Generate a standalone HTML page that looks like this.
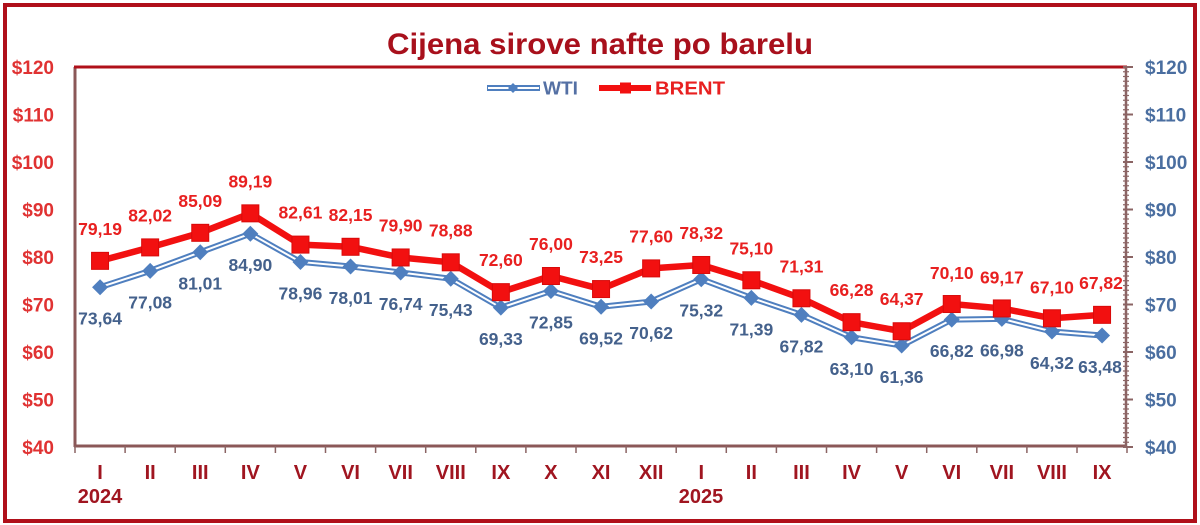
<!DOCTYPE html>
<html><head><meta charset="utf-8"><style>
html,body{margin:0;padding:0;background:#fff;}
svg{display:block;font-family:"Liberation Sans",Arial,sans-serif;font-weight:bold;}
</style></head><body>
<svg width="1200" height="525" viewBox="0 0 1200 525" xmlns="http://www.w3.org/2000/svg">
<rect x="0" y="0" width="1200" height="525" fill="#fff"/>
<rect x="5" y="5" width="1190" height="516" fill="none" stroke="#b0101a" stroke-width="4"/>
<text x="387" y="54" font-size="30" fill="#a8101c" textLength="426" lengthAdjust="spacingAndGlyphs">Cijena sirove nafte po barelu</text>

<!-- plot frame -->
<line x1="75" y1="447" x2="75" y2="67" stroke="#8b5858" stroke-width="3"/>
<line x1="74" y1="446" x2="1127" y2="446" stroke="#8b5858" stroke-width="3"/>
<line x1="74" y1="67" x2="1127" y2="67" stroke="#b0101a" stroke-width="3"/>
<line x1="1126" y1="67" x2="1126" y2="447" stroke="#8b6464" stroke-width="2.5"/>
<g stroke="#8b6464" stroke-width="2">
<line x1="1123" y1="67" x2="1133" y2="67"/><line x1="1123" y1="114.5" x2="1133" y2="114.5"/><line x1="1123" y1="162" x2="1133" y2="162"/><line x1="1123" y1="209.5" x2="1133" y2="209.5"/><line x1="1123" y1="257" x2="1133" y2="257"/><line x1="1123" y1="304.5" x2="1133" y2="304.5"/><line x1="1123" y1="352" x2="1133" y2="352"/><line x1="1123" y1="399.5" x2="1133" y2="399.5"/><line x1="1123" y1="447" x2="1133" y2="447"/>
</g>
<g stroke="#8b6464" stroke-width="1.2">
<line x1="1123" y1="71.75" x2="1129" y2="71.75"/><line x1="1123" y1="76.5" x2="1129" y2="76.5"/><line x1="1123" y1="81.25" x2="1129" y2="81.25"/><line x1="1123" y1="86" x2="1129" y2="86"/><line x1="1123" y1="90.75" x2="1129" y2="90.75"/><line x1="1123" y1="95.5" x2="1129" y2="95.5"/><line x1="1123" y1="100.25" x2="1129" y2="100.25"/><line x1="1123" y1="105" x2="1129" y2="105"/><line x1="1123" y1="109.75" x2="1129" y2="109.75"/>
<line x1="1123" y1="119.25" x2="1129" y2="119.25"/><line x1="1123" y1="124" x2="1129" y2="124"/><line x1="1123" y1="128.75" x2="1129" y2="128.75"/><line x1="1123" y1="133.5" x2="1129" y2="133.5"/><line x1="1123" y1="138.25" x2="1129" y2="138.25"/><line x1="1123" y1="143" x2="1129" y2="143"/><line x1="1123" y1="147.75" x2="1129" y2="147.75"/><line x1="1123" y1="152.5" x2="1129" y2="152.5"/><line x1="1123" y1="157.25" x2="1129" y2="157.25"/>
<line x1="1123" y1="166.75" x2="1129" y2="166.75"/><line x1="1123" y1="171.5" x2="1129" y2="171.5"/><line x1="1123" y1="176.25" x2="1129" y2="176.25"/><line x1="1123" y1="181" x2="1129" y2="181"/><line x1="1123" y1="185.75" x2="1129" y2="185.75"/><line x1="1123" y1="190.5" x2="1129" y2="190.5"/><line x1="1123" y1="195.25" x2="1129" y2="195.25"/><line x1="1123" y1="200" x2="1129" y2="200"/><line x1="1123" y1="204.75" x2="1129" y2="204.75"/>
<line x1="1123" y1="214.25" x2="1129" y2="214.25"/><line x1="1123" y1="219" x2="1129" y2="219"/><line x1="1123" y1="223.75" x2="1129" y2="223.75"/><line x1="1123" y1="228.5" x2="1129" y2="228.5"/><line x1="1123" y1="233.25" x2="1129" y2="233.25"/><line x1="1123" y1="238" x2="1129" y2="238"/><line x1="1123" y1="242.75" x2="1129" y2="242.75"/><line x1="1123" y1="247.5" x2="1129" y2="247.5"/><line x1="1123" y1="252.25" x2="1129" y2="252.25"/>
<line x1="1123" y1="261.75" x2="1129" y2="261.75"/><line x1="1123" y1="266.5" x2="1129" y2="266.5"/><line x1="1123" y1="271.25" x2="1129" y2="271.25"/><line x1="1123" y1="276" x2="1129" y2="276"/><line x1="1123" y1="280.75" x2="1129" y2="280.75"/><line x1="1123" y1="285.5" x2="1129" y2="285.5"/><line x1="1123" y1="290.25" x2="1129" y2="290.25"/><line x1="1123" y1="295" x2="1129" y2="295"/><line x1="1123" y1="299.75" x2="1129" y2="299.75"/>
<line x1="1123" y1="309.25" x2="1129" y2="309.25"/><line x1="1123" y1="314" x2="1129" y2="314"/><line x1="1123" y1="318.75" x2="1129" y2="318.75"/><line x1="1123" y1="323.5" x2="1129" y2="323.5"/><line x1="1123" y1="328.25" x2="1129" y2="328.25"/><line x1="1123" y1="333" x2="1129" y2="333"/><line x1="1123" y1="337.75" x2="1129" y2="337.75"/><line x1="1123" y1="342.5" x2="1129" y2="342.5"/><line x1="1123" y1="347.25" x2="1129" y2="347.25"/>
<line x1="1123" y1="356.75" x2="1129" y2="356.75"/><line x1="1123" y1="361.5" x2="1129" y2="361.5"/><line x1="1123" y1="366.25" x2="1129" y2="366.25"/><line x1="1123" y1="371" x2="1129" y2="371"/><line x1="1123" y1="375.75" x2="1129" y2="375.75"/><line x1="1123" y1="380.5" x2="1129" y2="380.5"/><line x1="1123" y1="385.25" x2="1129" y2="385.25"/><line x1="1123" y1="390" x2="1129" y2="390"/><line x1="1123" y1="394.75" x2="1129" y2="394.75"/>
<line x1="1123" y1="404.25" x2="1129" y2="404.25"/><line x1="1123" y1="409" x2="1129" y2="409"/><line x1="1123" y1="413.75" x2="1129" y2="413.75"/><line x1="1123" y1="418.5" x2="1129" y2="418.5"/><line x1="1123" y1="423.25" x2="1129" y2="423.25"/><line x1="1123" y1="428" x2="1129" y2="428"/><line x1="1123" y1="432.75" x2="1129" y2="432.75"/><line x1="1123" y1="437.5" x2="1129" y2="437.5"/><line x1="1123" y1="442.25" x2="1129" y2="442.25"/>
</g>
<!-- x ticks -->
<g stroke="#8b6464" stroke-width="1.5">
<line x1="75" y1="446" x2="75" y2="453"/><line x1="125.1" y1="446" x2="125.1" y2="453"/><line x1="175.2" y1="446" x2="175.2" y2="453"/><line x1="225.3" y1="446" x2="225.3" y2="453"/><line x1="275.4" y1="446" x2="275.4" y2="453"/><line x1="325.5" y1="446" x2="325.5" y2="453"/><line x1="375.6" y1="446" x2="375.6" y2="453"/><line x1="425.7" y1="446" x2="425.7" y2="453"/><line x1="475.8" y1="446" x2="475.8" y2="453"/><line x1="525.9" y1="446" x2="525.9" y2="453"/><line x1="576" y1="446" x2="576" y2="453"/><line x1="626.1" y1="446" x2="626.1" y2="453"/><line x1="676.2" y1="446" x2="676.2" y2="453"/><line x1="726.3" y1="446" x2="726.3" y2="453"/><line x1="776.4" y1="446" x2="776.4" y2="453"/><line x1="826.5" y1="446" x2="826.5" y2="453"/><line x1="876.6" y1="446" x2="876.6" y2="453"/><line x1="926.7" y1="446" x2="926.7" y2="453"/><line x1="976.8" y1="446" x2="976.8" y2="453"/><line x1="1026.9" y1="446" x2="1026.9" y2="453"/><line x1="1077" y1="446" x2="1077" y2="453"/><line x1="1127" y1="446" x2="1127" y2="453"/>
</g>

<!-- left y labels -->
<g font-size="19" fill="#e03232" text-anchor="end">
<text x="54" y="74">$120</text><text x="54" y="121.5">$110</text><text x="54" y="169">$100</text><text x="54" y="216.5">$90</text><text x="54" y="264">$80</text><text x="54" y="311.5">$70</text><text x="54" y="359">$60</text><text x="54" y="406.5">$50</text><text x="54" y="454">$40</text>
</g>
<!-- right y labels -->
<g font-size="19" fill="#4a6ea0" text-anchor="start">
<text x="1145" y="74">$120</text><text x="1145" y="121.5">$110</text><text x="1145" y="169">$100</text><text x="1145" y="216.5">$90</text><text x="1145" y="264">$80</text><text x="1145" y="311.5">$70</text><text x="1145" y="359">$60</text><text x="1145" y="406.5">$50</text><text x="1145" y="454">$40</text>
</g>
<!-- x labels -->
<g font-size="20" fill="#a01520" text-anchor="middle">
<text x="100.05" y="479">I</text><text x="150.15" y="479">II</text><text x="200.25" y="479">III</text><text x="250.35" y="479">IV</text><text x="300.45" y="479">V</text><text x="350.55" y="479">VI</text><text x="400.65" y="479">VII</text><text x="450.75" y="479">VIII</text><text x="500.85" y="479">IX</text><text x="550.95" y="479">X</text><text x="601.05" y="479">XI</text><text x="651.15" y="479">XII</text><text x="701.25" y="479">I</text><text x="751.35" y="479">II</text><text x="801.45" y="479">III</text><text x="851.55" y="479">IV</text><text x="901.65" y="479">V</text><text x="951.75" y="479">VI</text><text x="1001.85" y="479">VII</text><text x="1051.95" y="479">VIII</text><text x="1102.05" y="479">IX</text>
<text x="100" y="503">2024</text><text x="701" y="503">2025</text>
</g>

<!-- WTI series -->
<polyline fill="none" stroke="#4f7fbf" stroke-width="6" stroke-linejoin="round" points="100.05,287.21 150.15,270.87 200.25,252.2 250.35,233.72 300.45,261.94 350.55,266.45 400.65,272.48 450.75,278.71 500.85,307.68 550.95,290.96 601.05,306.78 651.15,301.55 701.25,279.23 751.35,297.9 801.45,314.85 851.55,337.27 901.65,345.54 951.75,319.6 1001.85,318.84 1051.95,331.48 1102.05,335.47"/>
<polyline fill="none" stroke="#ffffff" stroke-width="2" stroke-linejoin="round" points="100.05,287.21 150.15,270.87 200.25,252.2 250.35,233.72 300.45,261.94 350.55,266.45 400.65,272.48 450.75,278.71 500.85,307.68 550.95,290.96 601.05,306.78 651.15,301.55 701.25,279.23 751.35,297.9 801.45,314.85 851.55,337.27 901.65,345.54 951.75,319.6 1001.85,318.84 1051.95,331.48 1102.05,335.47"/>
<g fill="#4f7fbf">
<path d="M100.05,279.21l8,8l-8,8l-8,-8z"/><path d="M150.15,262.87l8,8l-8,8l-8,-8z"/><path d="M200.25,244.2l8,8l-8,8l-8,-8z"/><path d="M250.35,225.72l8,8l-8,8l-8,-8z"/><path d="M300.45,253.94l8,8l-8,8l-8,-8z"/><path d="M350.55,258.45l8,8l-8,8l-8,-8z"/><path d="M400.65,264.48l8,8l-8,8l-8,-8z"/><path d="M450.75,270.71l8,8l-8,8l-8,-8z"/><path d="M500.85,299.68l8,8l-8,8l-8,-8z"/><path d="M550.95,282.96l8,8l-8,8l-8,-8z"/><path d="M601.05,298.78l8,8l-8,8l-8,-8z"/><path d="M651.15,293.55l8,8l-8,8l-8,-8z"/><path d="M701.25,271.23l8,8l-8,8l-8,-8z"/><path d="M751.35,289.9l8,8l-8,8l-8,-8z"/><path d="M801.45,306.85l8,8l-8,8l-8,-8z"/><path d="M851.55,329.27l8,8l-8,8l-8,-8z"/><path d="M901.65,337.54l8,8l-8,8l-8,-8z"/><path d="M951.75,311.6l8,8l-8,8l-8,-8z"/><path d="M1001.85,310.84l8,8l-8,8l-8,-8z"/><path d="M1051.95,323.48l8,8l-8,8l-8,-8z"/><path d="M1102.05,327.47l8,8l-8,8l-8,-8z"/>
</g>

<!-- BRENT series -->
<polyline fill="none" stroke="#f21010" stroke-width="6.5" stroke-linejoin="round" points="100.05,260.85 150.15,247.4 200.25,232.82 250.35,213.35 300.45,244.6 350.55,246.79 400.65,257.47 450.75,262.32 500.85,292.15 550.95,276 601.05,289.06 651.15,268.4 701.25,264.98 751.35,280.27 801.45,298.28 851.55,322.17 901.65,331.24 951.75,304.02 1001.85,308.44 1051.95,318.27 1102.05,314.85"/>
<g fill="#f21010" stroke="#d80a0a" stroke-width="1">
<rect x="91.55" y="252.35" width="17" height="17"/><rect x="141.65" y="238.9" width="17" height="17"/><rect x="191.75" y="224.32" width="17" height="17"/><rect x="241.85" y="204.85" width="17" height="17"/><rect x="291.95" y="236.1" width="17" height="17"/><rect x="342.05" y="238.29" width="17" height="17"/><rect x="392.15" y="248.97" width="17" height="17"/><rect x="442.25" y="253.82" width="17" height="17"/><rect x="492.35" y="283.65" width="17" height="17"/><rect x="542.45" y="267.5" width="17" height="17"/><rect x="592.55" y="280.56" width="17" height="17"/><rect x="642.65" y="259.9" width="17" height="17"/><rect x="692.75" y="256.48" width="17" height="17"/><rect x="742.85" y="271.77" width="17" height="17"/><rect x="792.95" y="289.78" width="17" height="17"/><rect x="843.05" y="313.67" width="17" height="17"/><rect x="893.15" y="322.74" width="17" height="17"/><rect x="943.25" y="295.52" width="17" height="17"/><rect x="993.35" y="299.94" width="17" height="17"/><rect x="1043.45" y="309.77" width="17" height="17"/><rect x="1093.55" y="306.35" width="17" height="17"/>
</g>

<!-- BRENT labels -->
<g font-size="17.5" fill="#e82020" text-anchor="middle">
<text x="100.05" y="234.85">79,19</text><text x="150.15" y="221.4">82,02</text><text x="200.25" y="206.82">85,09</text><text x="250.35" y="187.35">89,19</text><text x="300.45" y="218.6">82,61</text><text x="350.55" y="220.79">82,15</text><text x="400.65" y="231.47">79,90</text><text x="450.75" y="236.32">78,88</text><text x="500.85" y="266.15">72,60</text><text x="550.95" y="250">76,00</text><text x="601.05" y="263.06">73,25</text><text x="651.15" y="242.4">77,60</text><text x="701.25" y="238.98">78,32</text><text x="751.35" y="254.27">75,10</text><text x="801.45" y="272.28">71,31</text><text x="851.55" y="296.17">66,28</text><text x="901.65" y="305.24">64,37</text><text x="951.75" y="279.02">70,10</text><text x="1001.85" y="283.44">69,17</text><text x="1051.95" y="293.27">67,10</text><text x="1101" y="288.85">67,82</text>
</g>
<!-- WTI labels -->
<g font-size="17.5" fill="#44618c" text-anchor="middle">
<text x="100.05" y="324.71">73,64</text><text x="150.15" y="308.37">77,08</text><text x="200.25" y="289.7">81,01</text><text x="250.35" y="271.22">84,90</text><text x="300.45" y="299.44">78,96</text><text x="350.55" y="303.95">78,01</text><text x="400.65" y="309.98">76,74</text><text x="450.75" y="316.21">75,43</text><text x="500.85" y="345.18">69,33</text><text x="550.95" y="328.46">72,85</text><text x="601.05" y="344.28">69,52</text><text x="651.15" y="339.05">70,62</text><text x="701.25" y="316.73">75,32</text><text x="751.35" y="335.4">71,39</text><text x="801.45" y="352.35">67,82</text><text x="851.55" y="374.77">63,10</text><text x="901.65" y="383.04">61,36</text><text x="951.75" y="357.1">66,82</text><text x="1001.85" y="356.34">66,98</text><text x="1051.95" y="368.98">64,32</text><text x="1100" y="372.97">63,48</text>
</g>

<!-- legend -->
<line x1="487" y1="88" x2="540" y2="88" stroke="#4f7fbf" stroke-width="6"/>
<line x1="488" y1="88" x2="539" y2="88" stroke="#fff" stroke-width="2"/>
<path d="M513,83l5,5l-5,5l-5,-5z" fill="#4f7fbf"/>
<text x="543" y="94.5" font-size="18" fill="#5470a4" textLength="35" lengthAdjust="spacingAndGlyphs">WTI</text>
<line x1="599" y1="88" x2="651" y2="88" stroke="#f21010" stroke-width="6"/>
<rect x="620" y="82.5" width="11" height="11" fill="#f21010"/>
<text x="655" y="94.5" font-size="18" fill="#e82020" textLength="70" lengthAdjust="spacingAndGlyphs">BRENT</text>
</svg>
</body></html>
